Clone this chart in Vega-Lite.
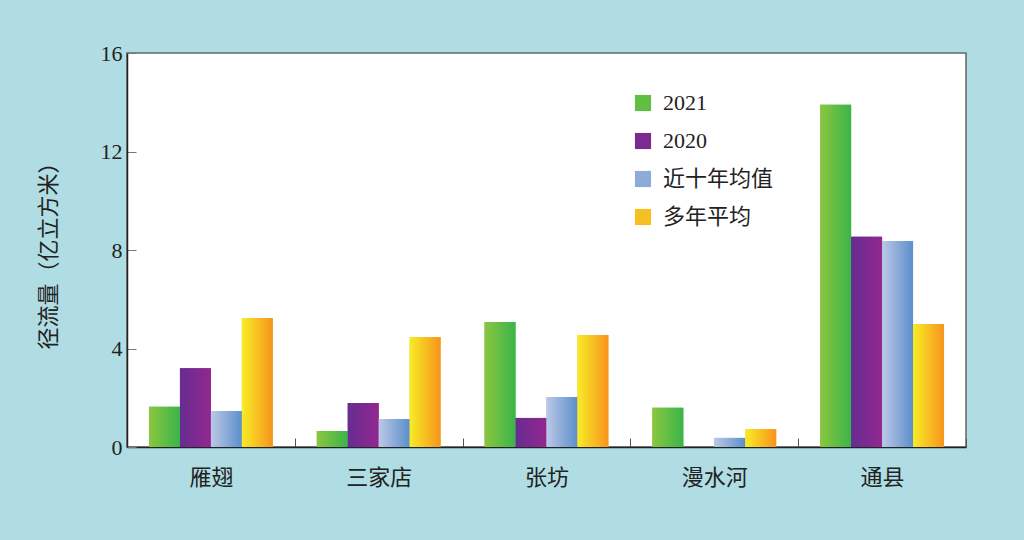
{
  "$schema": "https://vega.github.io/schema/vega-lite/v6.json",
  "width": 839,
  "height": 394,
  "autosize": {"type": "none"},
  "padding": {"left": 127, "top": 53, "right": 58, "bottom": 93},
  "background": "#b0dde3",
  "config": {
    "view": {"fill": "white", "stroke": "#666666", "strokeWidth": 1.5},
    "font": "Liberation Serif, Noto Sans CJK SC",
    "axis": {"labelFont": "Liberation Serif, Noto Sans CJK SC", "titleFont": "Liberation Serif, Noto Sans CJK SC", "labelColor": "#222222", "titleColor": "#222222"}
  },
  "data": {
    "values": [
      {"site": "雁翅", "series": "2021", "value": 1.63},
      {"site": "雁翅", "series": "2020", "value": 3.2},
      {"site": "雁翅", "series": "近十年均值", "value": 1.46},
      {"site": "雁翅", "series": "多年平均", "value": 5.24},
      {"site": "三家店", "series": "2021", "value": 0.65},
      {"site": "三家店", "series": "2020", "value": 1.79},
      {"site": "三家店", "series": "近十年均值", "value": 1.14},
      {"site": "三家店", "series": "多年平均", "value": 4.47},
      {"site": "张坊", "series": "2021", "value": 5.08},
      {"site": "张坊", "series": "2020", "value": 1.18},
      {"site": "张坊", "series": "近十年均值", "value": 2.03},
      {"site": "张坊", "series": "多年平均", "value": 4.55},
      {"site": "漫水河", "series": "2021", "value": 1.59},
      {"site": "漫水河", "series": "2020", "value": 0},
      {"site": "漫水河", "series": "近十年均值", "value": 0.37},
      {"site": "漫水河", "series": "多年平均", "value": 0.73},
      {"site": "通县", "series": "2021", "value": 13.9},
      {"site": "通县", "series": "2020", "value": 8.54},
      {"site": "通县", "series": "近十年均值", "value": 8.37},
      {"site": "通县", "series": "多年平均", "value": 5.0}
    ]
  },
  "encoding": {
    "x": {
      "field": "site", "type": "nominal", "sort": ["雁翅", "三家店", "张坊", "漫水河", "通县"],
      "scale": {"paddingInner": 0, "paddingOuter": 0},
      "axis": {"title": null, "labelAngle": 0, "labelFontSize": 22, "labelPadding": 29, "tickBand": "extent", "tickSize": -9, "tickColor": "#555555", "domainColor": "#222222", "domainWidth": 1.5}
    },
    "xOffset": {
      "field": "series", "type": "nominal",
      "scale": {"domain": ["2021", "2020", "近十年均值", "多年平均"], "paddingInner": 0, "paddingOuter": 0.71}
    },
    "y": {
      "field": "value", "type": "quantitative",
      "scale": {"domain": [0, 16]},
      "axis": {"title": "径流量（亿立方米）", "titleFontSize": 22, "titleFontWeight": "normal", "titlePadding": 40, "values": [0, 4, 8, 12, 16], "labelFontSize": 22, "labelPadding": 14, "tickSize": -9, "tickColor": "#777777", "domainColor": "#222222", "domainWidth": 1.5, "grid": false}
    }
  },
  "layer": [
    {
      "mark": {"type": "bar"},
      "encoding": {
        "color": {
          "field": "series", "type": "nominal",
          "scale": {"domain": ["2021", "2020", "近十年均值", "多年平均"], "range": ["#62bd45", "#7c2a90", "#8eaad7", "#f7c022"]},
          "legend": {"title": null, "orient": "none", "legendX": 505, "legendY": 39, "symbolType": "square", "symbolSize": 260, "symbolStrokeWidth": 0, "labelFontSize": 22, "labelFont": "Liberation Serif, Noto Sans CJK SC", "labelColor": "#222222", "rowPadding": 16, "labelOffset": 9}
        }
      }
    },
    {
      "transform": [{"filter": "datum.series == '2021'"}],
      "mark": {"type": "bar", "color": {"gradient": "linear", "x1": 0, "y1": 0, "x2": 1, "y2": 0, "stops": [{"offset": 0, "color": "#8cc63f"}, {"offset": 1, "color": "#39b54a"}]}}
    },
    {
      "transform": [{"filter": "datum.series == '2020'"}],
      "mark": {"type": "bar", "color": {"gradient": "linear", "x1": 0, "y1": 0, "x2": 1, "y2": 0, "stops": [{"offset": 0, "color": "#662d91"}, {"offset": 1, "color": "#92278f"}]}}
    },
    {
      "transform": [{"filter": "datum.series == '近十年均值'"}],
      "mark": {"type": "bar", "color": {"gradient": "linear", "x1": 0, "y1": 0, "x2": 1, "y2": 0, "stops": [{"offset": 0, "color": "#bcc8e6"}, {"offset": 1, "color": "#5b8fcb"}]}}
    },
    {
      "transform": [{"filter": "datum.series == '多年平均'"}],
      "mark": {"type": "bar", "color": {"gradient": "linear", "x1": 0, "y1": 0, "x2": 1, "y2": 0, "stops": [{"offset": 0, "color": "#f7ec26"}, {"offset": 1, "color": "#f7941d"}]}}
    }
  ]
}
